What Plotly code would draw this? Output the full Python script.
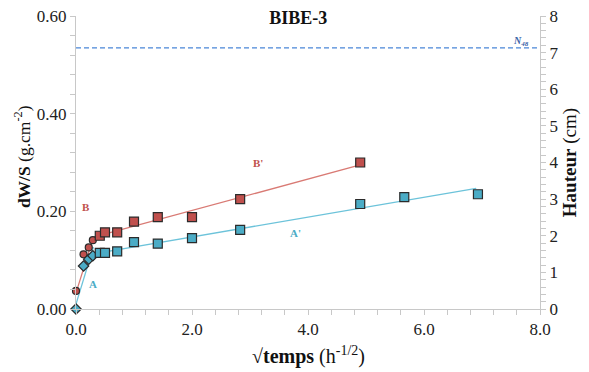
import plotly.graph_objects as go

# --- data ---
xB_circ = [0.0, 0.13, 0.22, 0.29]
yB_circ = [0.037, 0.112, 0.126, 0.141]
xB_sq = [0.41, 0.50, 0.71, 1.0, 1.41, 2.0, 2.83, 4.90]
yB_sq = [0.150, 0.157, 0.157, 0.179, 0.188, 0.188, 0.225, 0.300]

xA_dia = [0.0, 0.13, 0.22, 0.29]
yA_dia = [0.0, 0.088, 0.102, 0.109]
xA_sq = [0.41, 0.50, 0.71, 1.0, 1.41, 2.0, 2.83, 4.90, 5.66, 6.93]
yA_sq = [0.115, 0.115, 0.118, 0.137, 0.134, 0.145, 0.162, 0.215, 0.229, 0.235]

# fitted segments
xB_fit = [0.0, 0.30]
yB_fit = [0.033, 0.147]
xBp_fit = [0.30, 4.90]
yBp_fit = [0.147, 0.295]
xA_fit = [0.0, 0.30]
yA_fit = [0.010, 0.127]
xAp_fit = [0.30, 6.90]
yAp_fit = [0.113, 0.247]

n48_height = 7.13  # cm on right axis

RED = "#c0504d"
BLUE = "#4bacc6"
RED_LINE = "#d97a74"
BLUE_LINE = "#6cc3da"
EDGE = "#2b2b2b"
FONT = "Times New Roman, Liberation Serif, serif"

fig = go.Figure()

def line(x, y, c):
    fig.add_trace(go.Scatter(x=x, y=y, mode="lines", line=dict(color=c, width=1.3),
                             showlegend=False, hoverinfo="skip", cliponaxis=False))

line(xB_fit, yB_fit, RED_LINE)
line(xBp_fit, yBp_fit, RED_LINE)
line(xA_fit, yA_fit, BLUE_LINE)
line(xAp_fit, yAp_fit, BLUE_LINE)

def pts(x, y, c, sym, size):
    fig.add_trace(go.Scatter(x=x, y=y, mode="markers", cliponaxis=False,
                             marker=dict(color=c, symbol=sym, size=size,
                                         line=dict(color=EDGE, width=1.2)),
                             showlegend=False))

pts(xB_circ, yB_circ, RED, "circle", 7)
pts(xB_sq, yB_sq, RED, "square", 9)
pts(xA_dia, yA_dia, BLUE, "diamond", 8)
pts(xA_sq, yA_sq, BLUE, "square", 9)

# N48 dashed line on right axis
fig.add_trace(go.Scatter(x=[0, 8], y=[n48_height, n48_height], mode="lines",
                         line=dict(color="#4a86d8", width=1.2, dash="5px,3px"),
                         yaxis="y2", showlegend=False, hoverinfo="skip"))

ann = [
    dict(x=0.17, y=0.209, text="<b>B</b>", font=dict(color=RED, size=11, family=FONT)),
    dict(x=0.30, y=0.051, text="<b>A</b>", font=dict(color=BLUE, size=11, family=FONT)),
    dict(x=3.14, y=0.300, text="<b>B'</b>", font=dict(color=RED, size=11, family=FONT)),
    dict(x=3.79, y=0.156, text="<b>A'</b>", font=dict(color=BLUE, size=11, family=FONT)),
    dict(x=7.68, y=0.548, text="<i><b>N</b><sub><b>48</b></sub></i>",
         font=dict(color="#3a62a8", size=10, family=FONT)),
]
for a in ann:
    a.update(xref="x", yref="y", showarrow=False)

# axis titles as paper annotations
ann += [
    dict(x=0.5, y=-0.157, text="<b>√temps</b> (h<sup>-1/2</sup>)", textangle=0,
         font=dict(family=FONT, size=20, color="#111")),
    dict(x=-0.116, y=0.519, text="<b>dW/S</b> (g.cm<sup>-2</sup>)", textangle=-90,
         font=dict(family=FONT, size=17.5, color="#111")),
    dict(x=1.064, y=0.5, text="<b>Hauteur</b> (cm)", textangle=-90,
         font=dict(family=FONT, size=19, color="#111")),
]
for a in ann[-3:]:
    a.update(xref="paper", yref="paper", showarrow=False, xanchor="center", yanchor="middle")

axis_common = dict(showgrid=False, zeroline=False, showline=True, linecolor="#c8c8c8",
                   linewidth=1, ticks="outside", ticklen=5, tickcolor="#c8c8c8",
                   automargin=False, ticklabeloverflow="allow",
                   tickfont=dict(family=FONT, size=17, color="#222"))

# page body has an 8px margin, so the figure is 8px smaller than the window
fig.update_layout(
    width=581, height=364,
    margin=dict(l=68, r=49, t=8, b=63),
    plot_bgcolor="white", paper_bgcolor="white",
    font=dict(family=FONT, color="#111"),
    title=dict(text="<b>BIBE-3</b>", x=0.4995, xanchor="center", y=0.9725, yanchor="middle",
               font=dict(family=FONT, size=18, color="#111")),
    xaxis=dict(range=[0, 8], dtick=2.0, tickformat=".1f",
               minor=dict(dtick=0.4, ticks="outside", ticklen=5, tickcolor="#c8c8c8"),
               **axis_common),
    yaxis=dict(range=[0, 0.6], dtick=0.2, tickformat=".2f",
               minor=dict(dtick=0.04, ticks="outside", ticklen=5, tickcolor="#c8c8c8"),
               **axis_common),
    yaxis2=dict(range=[0, 8], dtick=1, overlaying="y", side="right",
                minor=dict(dtick=0.2, ticks="outside", ticklen=5, tickcolor="#c8c8c8"),
                **axis_common),
    annotations=ann,
)

fig.write_html("out.html")
